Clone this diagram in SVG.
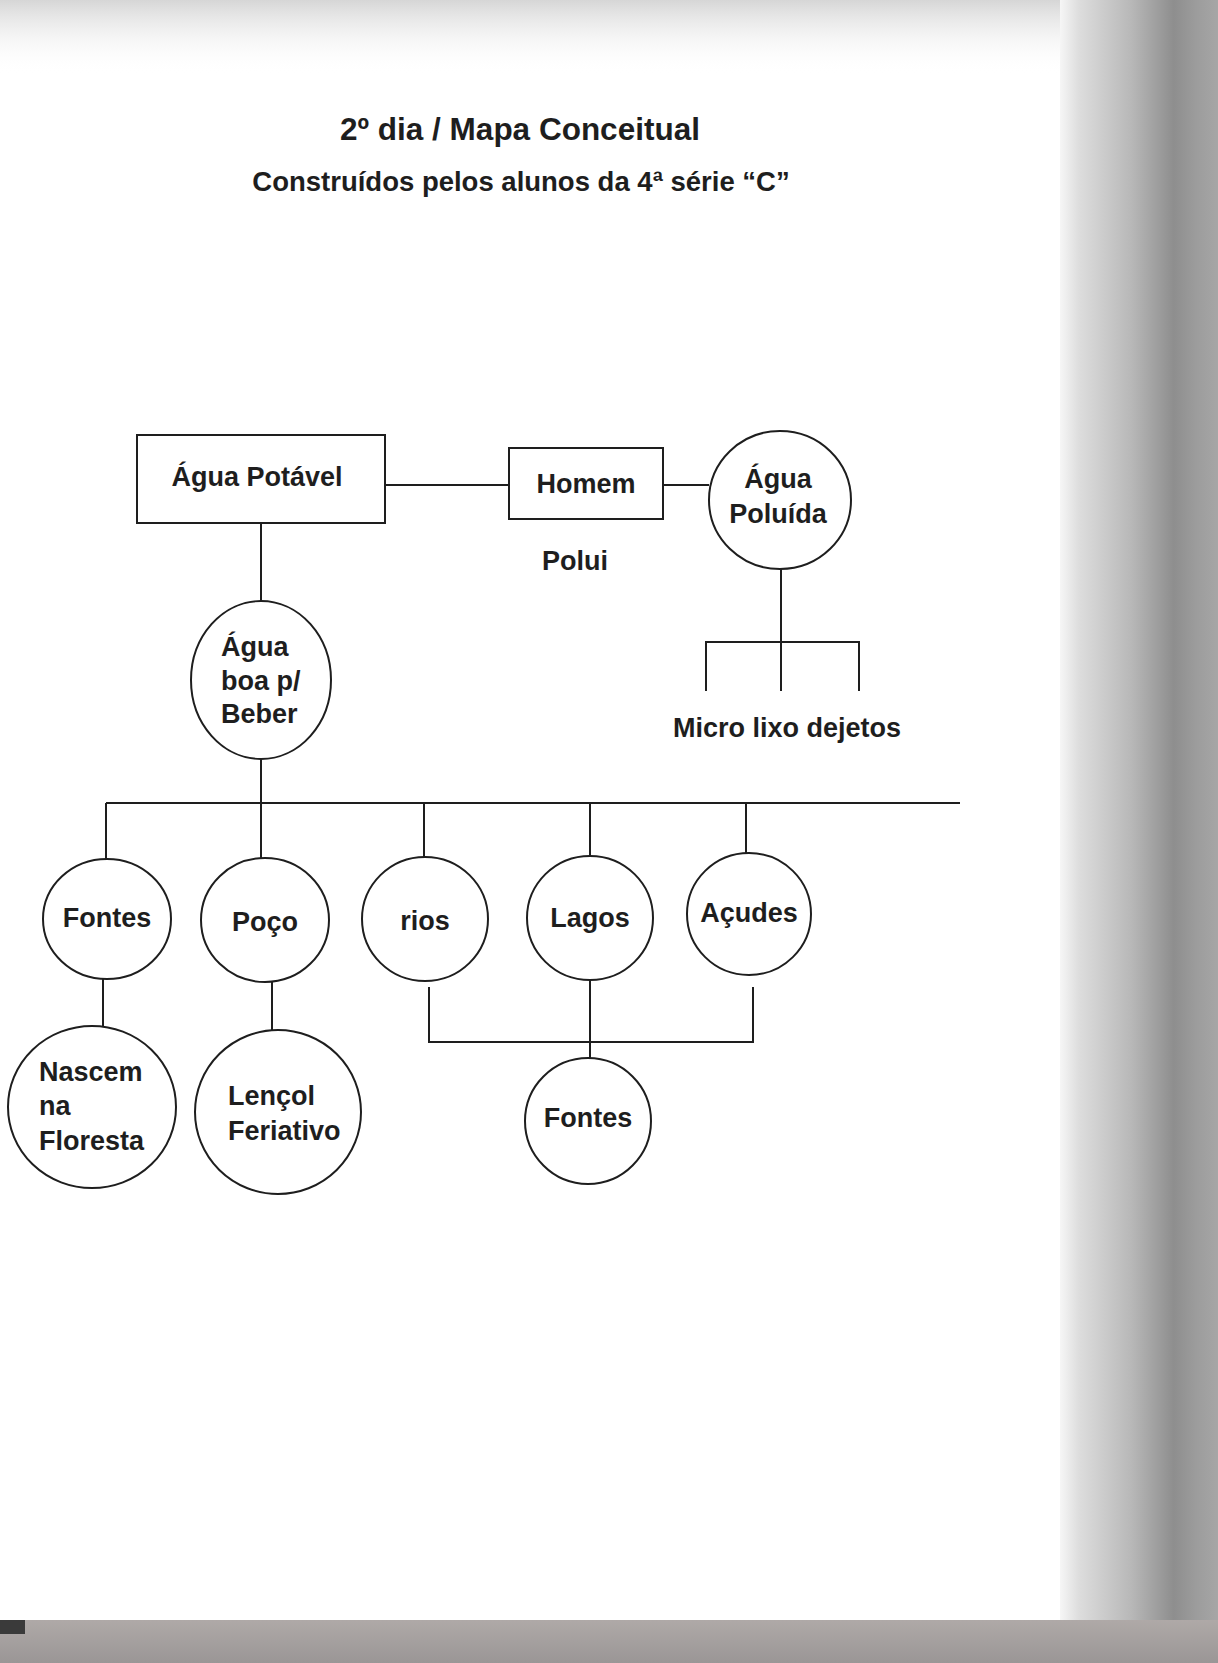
<svg xmlns="http://www.w3.org/2000/svg" width="1218" height="1663" viewBox="0 0 1218 1663">
<defs>
<style>
.t{font-family:"Liberation Sans",Arial,sans-serif;font-weight:bold;fill:#1e1e1e;}
.n{font-size:27px;}
.m{text-anchor:middle;}
.s{fill:#fff;stroke:#1e1e1e;stroke-width:2;}
.c{fill:none;stroke:#1e1e1e;stroke-width:2;}
</style>
<linearGradient id="gr" x1="1060" y1="0" x2="1218" y2="0" gradientUnits="userSpaceOnUse">
<stop offset="0" stop-color="#f6f6f6"/>
<stop offset="0.12" stop-color="#dddddd"/>
<stop offset="0.45" stop-color="#b8b8b8"/>
<stop offset="0.72" stop-color="#8e8e8e"/>
<stop offset="0.86" stop-color="#9c9c9c"/>
<stop offset="1" stop-color="#a6a6a6"/>
</linearGradient>
<linearGradient id="gt" x1="0" y1="0" x2="0" y2="75" gradientUnits="userSpaceOnUse">
<stop offset="0" stop-color="#d6d6d6"/>
<stop offset="1" stop-color="#ffffff" stop-opacity="0"/>
</linearGradient>
<linearGradient id="gb" x1="0" y1="1618" x2="0" y2="1663" gradientUnits="userSpaceOnUse">
<stop offset="0" stop-color="#b0aaa8"/>
<stop offset="1" stop-color="#9a9696"/>
</linearGradient>
</defs>
<rect x="0" y="0" width="1218" height="1663" fill="#ffffff"/>
<rect x="0" y="0" width="1070" height="75" fill="url(#gt)"/>
<rect x="1060" y="0" width="158" height="1663" fill="url(#gr)"/>
<rect x="0" y="1620" width="1218" height="43" fill="url(#gb)"/>
<rect x="0" y="1620" width="25" height="14" fill="#3a3a3a"/>

<g id="title">
<text class="t m" x="520" y="140" font-size="31.5">2º dia / Mapa Conceitual</text>
<text class="t m" x="521" y="191" font-size="27.5">Construídos pelos alunos da 4ª série “C”</text>
</g>

<g id="connectors">
<line class="c" x1="385" y1="485" x2="509" y2="485"/>
<line class="c" x1="663" y1="485" x2="709" y2="485"/>
<line class="c" x1="781" y1="569" x2="781" y2="642"/>
<polyline class="c" points="706,691 706,642 859,642 859,691"/>
<line class="c" x1="781" y1="642" x2="781" y2="691"/>
<line class="c" x1="261" y1="523" x2="261" y2="601"/>
<line class="c" x1="261" y1="759" x2="261" y2="803"/>
<line class="c" x1="106" y1="803" x2="960" y2="803"/>
<line class="c" x1="106" y1="803" x2="106" y2="859"/>
<line class="c" x1="261" y1="803" x2="261" y2="859"/>
<line class="c" x1="424" y1="803" x2="424" y2="857"/>
<line class="c" x1="590" y1="803" x2="590" y2="856"/>
<line class="c" x1="746" y1="803" x2="746" y2="853"/>
<line class="c" x1="103" y1="979" x2="103" y2="1026"/>
<line class="c" x1="272" y1="982" x2="272" y2="1030"/>
<polyline class="c" points="429,987 429,1042 753,1042 753,987"/>
<line class="c" x1="590" y1="980" x2="590" y2="1058"/>
</g>

<g id="agua-potavel">
<rect class="s" x="137" y="435" width="248" height="88"/>
<text class="t n m" x="257" y="486">Água Potável</text>
</g>
<g id="homem">
<rect class="s" x="509" y="448" width="154" height="71"/>
<text class="t n m" x="586" y="493">Homem</text>
</g>
<g id="agua-poluida">
<ellipse class="s" cx="780" cy="500" rx="71" ry="69"/>
<text class="t n m" x="778" y="488">Água</text>
<text class="t n m" x="778" y="523">Poluída</text>
</g>
<g id="polui">
<text class="t n m" x="575" y="570">Polui</text>
</g>
<g id="micro-lixo-dejetos">
<text class="t n m" x="787" y="737">Micro lixo dejetos</text>
</g>
<g id="agua-boa">
<ellipse class="s" cx="261" cy="680" rx="70" ry="79"/>
<text class="t n" x="221" y="656">Água</text>
<text class="t n" x="221" y="690">boa p/</text>
<text class="t n" x="221" y="723">Beber</text>
</g>
<g id="fontes">
<ellipse class="s" cx="107" cy="919" rx="64" ry="60"/>
<text class="t n m" x="107" y="927">Fontes</text>
</g>
<g id="poco">
<ellipse class="s" cx="265" cy="920" rx="64" ry="62"/>
<text class="t n m" x="265" y="931">Poço</text>
</g>
<g id="rios">
<ellipse class="s" cx="425" cy="919" rx="63" ry="62"/>
<text class="t n m" x="425" y="930">rios</text>
</g>
<g id="lagos">
<ellipse class="s" cx="590" cy="918" rx="63" ry="62"/>
<text class="t n m" x="590" y="927">Lagos</text>
</g>
<g id="acudes">
<ellipse class="s" cx="749" cy="914" rx="62" ry="61"/>
<text class="t n m" x="749" y="922">Açudes</text>
</g>
<g id="nascem">
<ellipse class="s" cx="92" cy="1107" rx="84" ry="81"/>
<text class="t n" x="39" y="1081">Nascem</text>
<text class="t n" x="39" y="1115">na</text>
<text class="t n" x="39" y="1150">Floresta</text>
</g>
<g id="lencol">
<ellipse class="s" cx="278" cy="1112" rx="83" ry="82"/>
<text class="t n" x="228" y="1105">Lençol</text>
<text class="t n" x="228" y="1140">Feriativo</text>
</g>
<g id="fontes-2">
<ellipse class="s" cx="588" cy="1121" rx="63" ry="63"/>
<text class="t n m" x="588" y="1127">Fontes</text>
</g>
</svg>
